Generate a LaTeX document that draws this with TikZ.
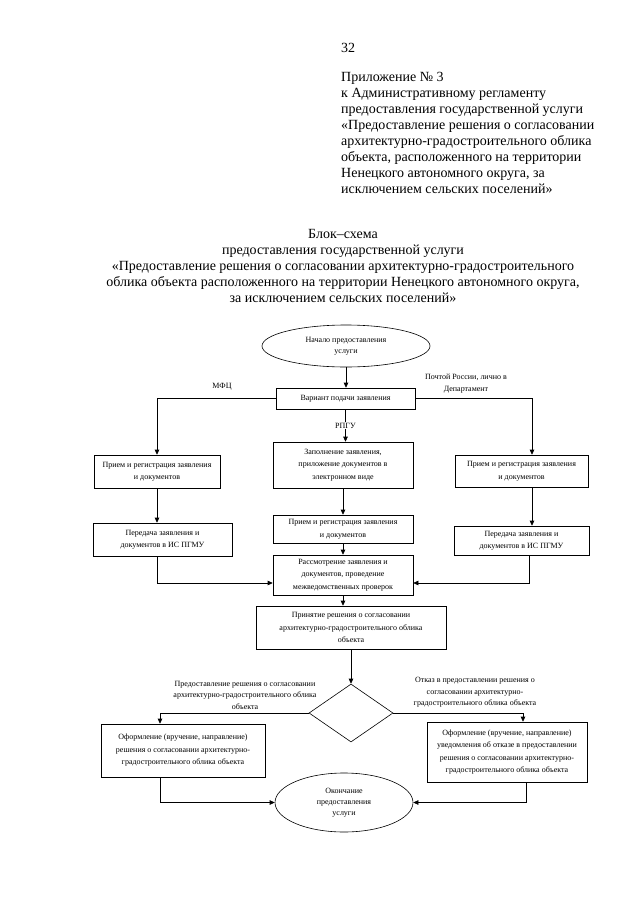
\documentclass[tikz,border=0pt]{standalone}
\usepackage{fontspec}
\setmainfont{Liberation Serif}
\usetikzlibrary{arrows.meta,shapes.geometric,calc}
\tikzset{
  bx/.style={draw, line width=0.6pt, align=center, inner sep=0pt,
    font=\fontsize{8}{12.5}\selectfont},
  ell/.style={draw, ellipse, line width=0.6pt, align=center, inner sep=0pt,
    font=\fontsize{8}{11}\selectfont},
  arr/.style={line width=0.6pt, -{Triangle[length=5pt,width=4.5pt]}},
  ln/.style={line width=0.6pt},
  lbl/.style={align=center, inner sep=0.5pt, font=\fontsize{8}{11.5}\selectfont},
  big/.style={font=\fontsize{14}{16}\selectfont, inner sep=0pt}
}
\begin{document}
\begin{tikzpicture}[x=1pt,y=-1pt]
\useasboundingbox (0,0) rectangle (640,905);
% header
\node[big, anchor=base west] (pnum) at (341,52) {32};
\node[big, anchor=north west, align=left] (app) at (341,72) {Приложение № 3\\
к Административному регламенту\\
предоставления государственной услуги\\
«Предоставление решения о согласовании\\
архитектурно-градостроительного облика\\
объекта, расположенного на территории\\
Ненецкого автономного округа, за\\
исключением сельских поселений»};
\node[big, anchor=north, align=center] (title) at (343,229) {Блок–схема\\
предоставления государственной услуги\\
«Предоставление решения о согласовании архитектурно-градостроительного\\
облика объекта расположенного на территории Ненецкого автономного округа,\\
за исключением сельских поселений»};
% columns
\coordinate (lcol) at (157,0);
\coordinate (rA) at (532,0);
\coordinate (rB) at (529,0);
\coordinate (lD) at (160,0);
\coordinate (rD) at (523,0);
\coordinate (rE) at (526,0);
% nodes
\node[ell, minimum width=168pt, minimum height=42pt] (start) at (346,346) {Начало предоставления\\услуги};
\node[bx, minimum width=139pt, minimum height=21pt] (var) at (345.5,398.5) {Вариант подачи заявления};
\node[bx, minimum width=126pt, minimum height=33pt] (lb1) at (157,471.5) {Прием и регистрация заявления\\и документов};
\node[bx, minimum width=139pt, minimum height=33pt] (lb2) at (162.5,539.5) {Передача заявления и\\документов в ИС ПГМУ};
\node[bx, minimum width=140pt, minimum height=46pt] (cb1) at (343,465) {Заполнение заявления,\\приложение документов в\\электронном виде};
\node[bx, minimum width=140pt, minimum height=28pt] (cb2) at (343,529) {Прием и регистрация заявления\\и документов};
\node[bx, minimum width=133pt, minimum height=32pt] (rb1) at (521.5,471) {Прием и регистрация заявления\\и документов};
\node[bx, minimum width=135pt, minimum height=29pt] (rb2) at (521.5,540.5) {Передача заявления и\\документов в ИС ПГМУ};
\node[bx, minimum width=140pt, minimum height=40pt] (rev) at (343,575) {Рассмотрение заявления и\\документов, проведение\\межведомственных проверок};
\node[bx, minimum width=190pt, minimum height=43pt] (dec) at (351,627.5) {Принятие решения о согласовании\\архитектурно-градостроительного облика\\объекта};
\node[draw, diamond, line width=0.6pt, inner sep=0pt, minimum width=84pt, minimum height=58pt] (dia) at (351,713) {};
\node[bx, minimum width=164pt, minimum height=53pt] (ob1) at (183,750.5) {Оформление (вручение, направление)\\решения о согласовании архитектурно-\\градостроительного облика объекта};
\node[bx, minimum width=160pt, minimum height=60pt] (ob2) at (507,752) {Оформление (вручение, направление)\\уведомления об отказе в предоставлении\\решения о согласовании архитектурно-\\градостроительного облика объекта};
\node[ell, minimum width=138pt, minimum height=59pt] (fin) at (344,802.5) {Окончание\\предоставления\\услуги};
% connectors
\draw[arr] (start.south) -- (start.south |- var.north);
\draw[arr] (var.west) -| (lb1.north);
\draw[arr] (var.east) -| (rb1.north -| rA);
\draw[arr] (var.south) -- (var.south |- cb1.north) node[pos=0.5, lbl, fill=white] (rpgu) {РПГУ};
\draw[arr] (lb1.south) -- (lb1.south |- lb2.north);
\draw[arr] (rb1.south -| rA) -- (rb2.north -| rA);
\draw[arr] (cb1.south) -- (cb2.north);
\draw[arr] (cb2.south) -- (rev.north);
\draw[arr] (lb2.south -| lcol) |- ([yshift=-8pt]rev.west);
\draw[arr] (rb2.south -| rB) |- ([yshift=-8pt]rev.east);
\draw[arr] (rev.south) -- (rev.south |- dec.north);
\draw[arr] (dec.south) -- (dia.north);
\draw[arr] (dia.west) -| (ob1.north -| lD);
\draw[arr] (dia.east) -| (ob2.north -| rD);
\draw[arr] (ob1.south -| lD) |- (fin.west);
\draw[arr] (ob2.south -| rE) |- (fin.east);
% labels
\node[lbl] (mfc) at (222,387) {МФЦ};
\node[lbl] (post) at (466,383.5) {Почтой России, лично в\\Департамент};
\node[lbl] (yes) at (245,695) {Предоставление решения о согласовании\\архитектурно-градостроительного облика\\объекта};
\node[lbl] (no) at (475,692.5) {Отказ в предоставлении решения о\\согласовании архитектурно-\\градостроительного облика объекта};
\end{tikzpicture}
\end{document}
